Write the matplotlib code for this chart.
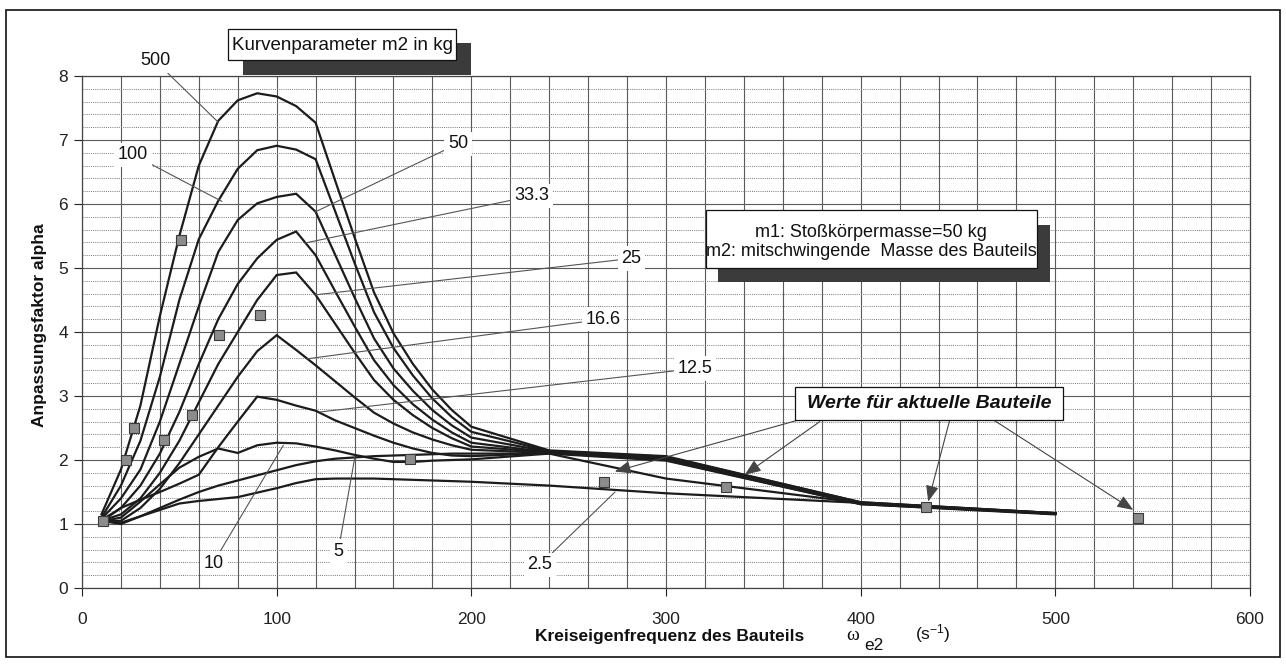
import matplotlib
matplotlib.use("Agg")
import matplotlib.pyplot as plt
from matplotlib.patches import Rectangle
from matplotlib.ticker import MultipleLocator

plt.rcParams['font.family'] = ['Liberation Sans', 'DejaVu Sans']
plt.rcParams['mathtext.default'] = 'regular'

# frequency sample points (omega_e2, 1/s)
omega = [10, 20, 30, 40, 50, 60, 70, 80, 90, 100, 110, 120, 130, 140, 150,
         160, 170, 180, 190, 200, 240, 300, 400, 500]

# alpha per curve parameter m2 (kg)
m500 = [1.15, 1.85, 2.85, 4.25, 5.5, 6.6, 7.3, 7.62, 7.73, 7.68, 7.53, 7.27, 6.37, 5.48, 4.62,
        3.98, 3.5, 3.1, 2.78, 2.52, 2.15, 2.06, 1.34, 1.17]
m100 = [1.1, 1.6, 2.3, 3.3, 4.5, 5.45, 6.05, 6.55, 6.84, 6.91, 6.85, 6.7, 5.89, 5.08, 4.31,
        3.75, 3.32, 2.96, 2.67, 2.44, 2.14, 2.05, 1.34, 1.17]
m50 = [1.08, 1.4, 1.85, 2.6, 3.5, 4.4, 5.25, 5.75, 6.01, 6.11, 6.16, 5.88, 5.21, 4.54, 3.9,
       3.43, 3.08, 2.78, 2.54, 2.35, 2.13, 2.04, 1.33, 1.17]
m33 = [1.06, 1.25, 1.6, 2.1, 2.75, 3.5, 4.2, 4.75, 5.15, 5.44, 5.57, 5.2, 4.64, 4.09, 3.56,
       3.17, 2.87, 2.63, 2.43, 2.27, 2.12, 2.03, 1.33, 1.16]
m25 = [1.05, 1.15, 1.4, 1.8, 2.3, 2.9, 3.5, 4.0, 4.5, 4.89, 4.93, 4.58, 4.13, 3.68, 3.25,
       2.94, 2.7, 2.5, 2.34, 2.21, 2.12, 2.02, 1.32, 1.16]
m16 = [1.04, 1.05, 1.25, 1.55, 1.95, 2.4, 2.85, 3.3, 3.7, 3.95, 3.72, 3.48, 3.23, 2.98, 2.74,
       2.57, 2.43, 2.32, 2.23, 2.16, 2.11, 2.01, 1.32, 1.16]
m12 = [1.04, 1.25, 1.38, 1.5, 1.63, 1.77, 2.2, 2.6, 2.99, 2.94, 2.85, 2.77, 2.62, 2.5, 2.38,
       2.27, 2.18, 2.11, 2.07, 2.06, 2.11, 2.0, 1.31, 1.16]
m10 = [1.04, 1.1, 1.35, 1.62, 1.88, 2.05, 2.18, 2.11, 2.23, 2.27, 2.26, 2.21, 2.15, 2.08, 2.02,
       1.97, 1.97, 1.99, 2.0, 2.01, 2.1, 1.99, 1.31, 1.15]
m5 = [1.05, 1.0, 1.12, 1.25, 1.38, 1.5, 1.6, 1.68, 1.76, 1.84, 1.92, 1.98, 2.02, 2.04, 2.06,
      2.07, 2.08, 2.09, 2.1, 2.1, 2.1, 1.71, 1.33, 1.16]
m2_5 = [1.05, 1.02, 1.12, 1.22, 1.32, 1.36, 1.39, 1.42, 1.49, 1.56, 1.64, 1.70, 1.71, 1.71, 1.71,
        1.70, 1.69, 1.68, 1.67, 1.66, 1.6, 1.48, 1.33, 1.16]

curves = [m500, m100, m50, m33, m25, m16, m12, m10, m5, m2_5]
curve_names = ["500", "100", "50", "33.3", "25", "16.6", "12.5", "10", "5", "2.5"]

# label position and point on curve for each leader line
label_pos = [(37.5, 8.24), (26.2, 6.77), (193.1, 6.94), (231, 6.125), (282.3, 5.15),
             (267.7, 4.20), (314.8, 3.43), (67.4, 0.39), (131.6, 0.57), (235.2, 0.36)]
label_target = [(69.9, 7.28), (71.9, 6.04), (119.7, 5.875), (114.5, 5.39), (119.7, 4.58),
                (115.4, 3.58), (122.2, 2.75), (103.4, 2.23), (140.2, 2.05), (273.8, 1.50)]

# measured values for actual components
parts_x = [11, 22.8, 26.5, 42, 50.8, 56.5, 70.2, 91.3, 168.5, 268.3, 331, 433.8, 542.5]
parts_y = [1.05, 2.0, 2.5, 2.32, 5.44, 2.70, 3.96, 4.26, 2.01, 1.66, 1.58, 1.27, 1.09]

# arrows from the "Werte" box
arrow_start = [(372.2, 2.66), (379, 2.6), (445.8, 2.63), (468, 2.63)]
arrow_end = [(273.7, 1.82), (340.5, 1.77), (434.7, 1.35), (540, 1.22)]

W, H = 1286, 666
fig = plt.figure(figsize=(W / 100, H / 100), dpi=100)
ax = fig.add_axes([82 / W, 78 / H, 1168 / W, 512 / H])
ax.set_xlim(0, 600)
ax.set_ylim(0, 8)

ax.xaxis.set_major_locator(MultipleLocator(100))
ax.xaxis.set_minor_locator(MultipleLocator(20))
ax.yaxis.set_major_locator(MultipleLocator(1))
ax.yaxis.set_minor_locator(MultipleLocator(0.2))
ax.tick_params(which='minor', length=0)
ax.tick_params(axis='x', which='major', length=6, width=0.8, pad=11, labelsize=12.5, colors='#222')
ax.tick_params(axis='y', which='major', length=6, width=0.8, pad=4, labelsize=12.5, colors='#222')

ax.grid(True, which='major', color='#5a5a5a', lw=0.8)
ax.grid(True, which='minor', axis='x', color='#5a5a5a', lw=0.8)
ax.grid(True, which='minor', axis='y', color='#777777', lw=0.7, ls=(0, (1, 1.2)))
ax.set_axisbelow(True)
for sp in ax.spines.values():
    sp.set_color('#444')
    sp.set_linewidth(0.9)

for vals in curves:
    ax.plot(omega, vals, color='#1c1c1c', lw=1.6, zorder=3, solid_joinstyle='miter')

ax.plot(parts_x, parts_y, 's', ms=7, mfc='#8c8c8c', mec='#3a3a3a', mew=0.8, zorder=5, clip_on=False)

for name, (lx, ly), (tx, ty) in zip(curve_names, label_pos, label_target):
    ax.annotate(name, xy=(tx, ty), xytext=(lx, ly), ha='center', va='center', fontsize=13,
                color='#111', annotation_clip=False, zorder=6,
                bbox=dict(boxstyle='square,pad=0.2', fc='white', ec='none'),
                arrowprops=dict(arrowstyle='-', color='#555', lw=0.8, shrinkA=0, shrinkB=0))

for (sx, sy), (ex, ey) in zip(arrow_start, arrow_end):
    ax.annotate('', xy=(ex, ey), xytext=(sx, sy), zorder=6,
                arrowprops=dict(arrowstyle='-|>,head_length=0.7,head_width=0.28', color='#444',
                                lw=0.8, mutation_scale=14, shrinkA=0, shrinkB=0))


def px_rect(x0, y0, x1, y1, **kw):
    r = Rectangle((x0 / W, 1 - y1 / H), (x1 - x0) / W, (y1 - y0) / H,
                  transform=fig.transFigure, **kw)
    fig.add_artist(r)


# legend style boxes with shadows
px_rect(243, 43, 471, 75, fc='#3b3b3b', ec='none', zorder=7)
px_rect(228, 29, 456, 60, fc='white', ec='#111', lw=0.9, zorder=8)
fig.text(342 / W, 1 - 45 / H, "Kurvenparameter m2 in kg", ha='center', va='center',
         fontsize=13.5, color='#111', zorder=9)

px_rect(718, 225, 1050, 282, fc='#3b3b3b', ec='none', zorder=7)
px_rect(706, 210, 1037, 268, fc='white', ec='#111', lw=0.9, zorder=8)
fig.text(871 / W, 1 - 242 / H, "m1: Stoßkörpermasse=50 kg\nm2: mitschwingende  Masse des Bauteils",
         ha='center', va='center', fontsize=13, linespacing=1.2, color='#111', zorder=9)

px_rect(795, 387, 1063, 420, fc='white', ec='#111', lw=0.9, zorder=8)
fig.text(929 / W, 1 - 403.5 / H, "Werte für aktuelle Bauteile", ha='center', va='center',
         fontsize=14, fontweight='bold', fontstyle='italic', color='#111', zorder=9)

# axis titles
fig.text(40 / W, 1 - 325 / H, "Anpassungsfaktor alpha", rotation=90, ha='center', va='center',
         fontsize=12.5, fontweight='bold', color='#111')
fig.text(535 / W, 1 - 637 / H, "Kreiseigenfrequenz des Bauteils", ha='left', va='center',
         fontsize=12.5, fontweight='bold', color='#111')
fig.text(846 / W, 1 - 636 / H, "ω", ha='left', va='center', fontsize=14,
         family=['Liberation Serif', 'DejaVu Serif'], color='#111')
fig.text(864 / W, 1 - 645 / H, "e2", ha='left', va='center', fontsize=12.5, color='#111')
fig.text(915 / W, 1 - 634 / H, "(s$^{-1}$)", ha='left', va='center', fontsize=12.5, color='#111')

# outer frame
px_rect(6, 10, 1280, 657, fc='none', ec='#111', lw=1.2, zorder=10)

fig.savefig("out.png", dpi=100)
